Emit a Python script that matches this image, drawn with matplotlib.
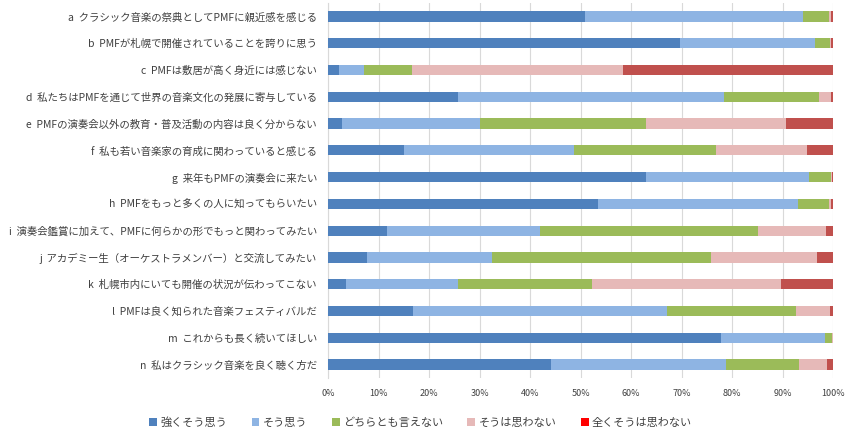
import matplotlib
matplotlib.use("Agg")
import matplotlib.pyplot as plt
from matplotlib.patches import Patch
from matplotlib.ticker import PercentFormatter
import numpy as np

plt.rcParams['font.family'] = ['Noto Sans CJK JP', 'DejaVu Sans']

categories = [
    "a  クラシック音楽の祭典としてPMFに親近感を感じる",
    "b  PMFが札幌で開催されていることを誇りに思う",
    "c  PMFは敷居が高く身近には感じない",
    "d  私たちはPMFを通じて世界の音楽文化の発展に寄与している",
    "e  PMFの演奏会以外の教育・普及活動の内容は良く分からない",
    "f  私も若い音楽家の育成に関わっていると感じる",
    "g  来年もPMFの演奏会に来たい",
    "h  PMFをもっと多くの人に知ってもらいたい",
    "i  演奏会鑑賞に加えて、PMFに何らかの形でもっと関わってみたい",
    "j  アカデミー生（オーケストラメンバー）と交流してみたい",
    "k  札幌市内にいても開催の状況が伝わってこない",
    "l  PMFは良く知られた音楽フェスティバルだ",
    "m  これからも長く続いてほしい",
    "n  私はクラシック音楽を良く聴く方だ",
]

series_names = ["強くそう思う", "そう思う", "どちらとも言えない", "そうは思わない", "全くそうは思わない"]

strongly_agree = [50.8, 69.7, 2.1, 25.7, 2.8, 15.0, 63.0, 53.4, 11.7, 7.7, 3.6, 16.8, 77.9, 44.2]
agree          = [43.2, 26.7, 5.0, 52.8, 27.3, 33.7, 32.2, 39.6, 30.2, 24.7, 22.1, 50.4, 20.5, 34.7]
neutral        = [5.3, 3.1, 9.5, 18.7, 32.9, 28.1, 4.4, 6.3, 43.3, 43.4, 26.6, 25.4, 1.5, 14.3]
disagree       = [0.4, 0.2, 41.8, 2.4, 27.6, 18.1, 0.2, 0.4, 13.5, 21.0, 37.4, 6.9, 0.1, 5.7]
strongly_dis   = [0.3, 0.3, 41.6, 0.4, 9.4, 5.1, 0.2, 0.3, 1.3, 3.2, 10.3, 0.5, 0.0, 1.1]

series_values = [strongly_agree, agree, neutral, disagree, strongly_dis]
colors = ["#4F81BD", "#8EB4E3", "#9BBB59", "#E6B9B8", "#C0504D"]
legend_colors = ["#4F81BD", "#8EB4E3", "#9BBB59", "#E6B9B8", "#FF0000"]

fig = plt.figure(figsize=(8.5, 4.4), dpi=100)
ax = fig.add_axes([0.386, 0.141, 0.594, 0.852])

data = np.array(series_values, dtype=float)
totals = data.sum(axis=0)
pct = data / totals * 100
y = np.arange(len(categories))
left = np.zeros(len(categories))
for i, name in enumerate(series_names):
    ax.barh(y, pct[i], left=left, height=0.38, color=colors[i], label=name,
            edgecolor='none', zorder=3)
    left += pct[i]

ax.set_xlim(0, 100)
ax.set_ylim(len(categories) - 0.5, -0.5)
ax.set_yticks(y)
ax.set_yticklabels(categories, fontsize=7.5, color="#404040")
ax.set_xticks(np.arange(0, 101, 10))
ax.xaxis.set_major_formatter(PercentFormatter(decimals=0))
ax.tick_params(axis='x', labelsize=6.5, colors="#404040", length=0, pad=8)
ax.tick_params(axis='y', length=0, pad=8)
ax.grid(axis='x', color="#D9D9D9", linewidth=0.8, zorder=0)
for s in ['top', 'right', 'bottom']:
    ax.spines[s].set_visible(False)
ax.spines['left'].set_color("#D9D9D9")
ax.spines['left'].set_linewidth(0.8)

handles = [Patch(facecolor=c, edgecolor='none') for c in legend_colors]
fig.legend(handles, series_names, loc='center', bbox_to_anchor=(0.495, 0.04),
           ncol=5, frameon=False, fontsize=8, handlelength=0.7, handleheight=0.7,
           handletextpad=0.3, columnspacing=2.2, labelcolor="#404040")

fig.savefig("out.png", dpi=100)
